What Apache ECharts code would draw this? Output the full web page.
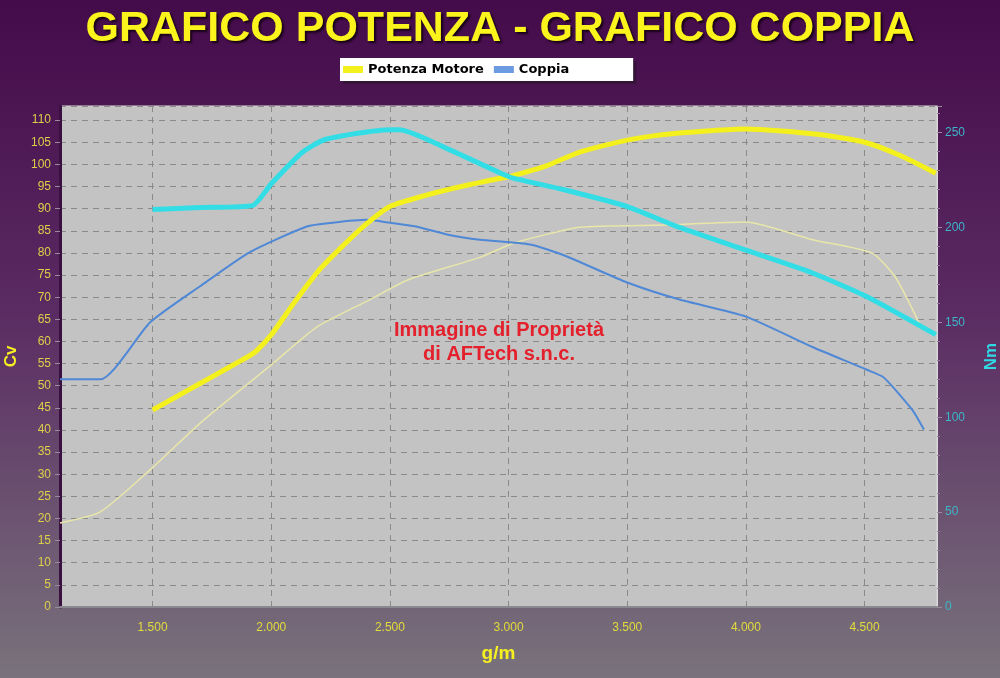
<!DOCTYPE html>
<html>
<head>
<meta charset="utf-8">
<title>Grafico Potenza - Grafico Coppia</title>
<script src="https://cdn.jsdelivr.net/npm/echarts@6/dist/echarts.min.js"></script>
<style>
  html, body { margin: 0; padding: 0; }
  #chart { width: 1000px; height: 678px; }
</style>
</head>
<body>
<div id="chart"></div>
<script>
// tick labels of the rpm axis
const rpmTicks = [1500, 2000, 2500, 3000, 3500, 4000, 4500]

// potenza motore (curva spessa, Cv)
const potenzaRpm = [1500, 1600, 1700, 1800, 1900, 1940, 2000, 2100, 2200, 2300, 2400, 2500, 2650, 2800, 2950, 3000, 3150, 3300, 3500, 3700, 4000, 4300, 4500, 4650, 4800]
const potenzaCv = [44.5, 47.5, 50.5, 53.5, 56.5, 58, 61.5, 69, 76, 81.5, 86.5, 90.5, 93, 95, 96.7, 97.2, 99.5, 102.8, 105.5, 107, 108, 106.8, 105, 102, 98]

// coppia (curva spessa, Nm)
const coppiaRpm = [1500, 1700, 1920, 2000, 2130, 2230, 2500, 2540, 2750, 2960, 3020, 3230, 3500, 3720, 4000, 4280, 4510, 4800]
const coppiaNm = [209.5, 210.5, 211.5, 223, 239.5, 246.5, 251.5, 251.5, 241, 229, 226, 220, 211, 200, 188, 176, 163.5, 143.5]

// potenza di riferimento (curva sottile, Cv)
const potenza2Rpm = [1110, 1280, 1500, 1710, 2000, 2190, 2410, 2580, 2880, 3020, 3300, 3650, 4000, 4280, 4530, 4630, 4740]
const potenza2Cv = [19, 21.5, 31.5, 42, 54.7, 63.2, 69.3, 74, 79, 82.2, 85.8, 86.3, 87, 83, 80, 74.5, 63]

// coppia di riferimento (curva sottile, Nm)
const coppia2Rpm = [1110, 1280, 1490, 1700, 1910, 2150, 2260, 2400, 2500, 2610, 2750, 2880, 3090, 3230, 3500, 3720, 4000, 4280, 4510, 4580, 4700, 4750]
const coppia2Nm = [120, 120, 150, 169, 187, 200.5, 202.5, 204, 202.5, 200.5, 196, 193.5, 191, 185.5, 171, 162, 153, 137, 125, 121, 104, 93.5]

function pairs(xs, ys) {
  return xs.map((x, i) => [x, ys[i]])
}

const myChart = echarts.init(document.getElementById('chart'), null, { renderer: 'canvas' })

const options = {
  animation: false,
  backgroundColor: {
    type: 'linear', x: 0, y: 0, x2: 0, y2: 1,
    colorStops: [
      { offset: 0, color: '#440b4a' },
      { offset: 0.45, color: '#5a2a62' },
      { offset: 1, color: '#79737c' }
    ]
  },
  title: {
    text: 'GRAFICO POTENZA - GRAFICO COPPIA',
    left: 'center',
    top: 3,
    textStyle: {
      color: '#fbf31c',
      fontFamily: 'Liberation Sans',
      fontWeight: 'bold',
      fontSize: 43,
      textShadowColor: 'rgba(20,0,20,0.9)',
      textShadowBlur: 2,
      textShadowOffsetX: 2,
      textShadowOffsetY: 2
    }
  },
  legend: {
    left: 340,
    top: 58,
    icon: 'rect',
    itemWidth: 20,
    itemHeight: 7,
    itemGap: 10,
    padding: [5, 64, 5, 3],
    backgroundColor: '#ffffff',
    shadowColor: 'rgba(40,20,40,0.6)',
    shadowOffsetX: 3,
    shadowOffsetY: 3,
    textStyle: {
      color: '#000',
      fontFamily: 'DejaVu Sans',
      fontWeight: 'bold',
      fontSize: 13
    },
    data: [
      { name: 'Potenza Motore', itemStyle: { color: '#f4f01c' } },
      { name: 'Coppia', itemStyle: { color: '#6d9be2' } }
    ]
  },
  graphic: [
    {
      type: 'text',
      x: 499,
      y: 342,
      z: 10,
      style: {
        text: 'Immagine di Proprietà\ndi AFTech s.n.c.',
        fill: '#e4202c',
        font: 'bold 20px "Liberation Sans"',
        textAlign: 'center',
        textVerticalAlign: 'middle',
        lineHeight: 24
      }
    }
  ],
  grid: {
    left: 60,
    right: 63,
    top: 106,
    bottom: 71,
    outerBoundsMode: 'none',
    show: true,
    backgroundColor: '#c3c3c3',
    borderColor: '#d6d6d6',
    borderWidth: 1
  },
  xAxis: {
    type: 'value',
    min: 1110,
    max: 4805,
    name: 'g/m',
    nameLocation: 'middle',
    nameGap: 37,
    nameTextStyle: {
      color: '#f6f020',
      fontFamily: 'Liberation Sans',
      fontWeight: 'bold',
      fontSize: 19
    },
    axisLine: { lineStyle: { color: '#8c8890', width: 2 } },
    axisTick: { show: false, customValues: rpmTicks },
    axisLabel: {
      customValues: rpmTicks,
      color: '#e2dc3a',
      fontFamily: 'Liberation Sans',
      fontSize: 12,
      margin: 15,
      formatter: v => (v / 1000).toFixed(3)
    },
    splitLine: {
      show: true,
      lineStyle: { color: '#8a8a8a', type: [6, 5], width: 1 }
    }
  },
  yAxis: [
    {
      type: 'value',
      position: 'left',
      min: 0,
      max: 113.2,
      interval: 5,
      name: 'Cv',
      nameLocation: 'middle',
      nameRotate: 90,
      nameGap: 38,
      nameTextStyle: {
        color: '#f6f020',
        fontFamily: 'Liberation Sans',
        fontWeight: 'bold',
        fontSize: 17
      },
      axisLine: { show: true, lineStyle: { color: '#3a1040', width: 3 } },
      axisTick: { show: true, length: 5, lineStyle: { color: '#9a8aa0' } },
      axisLabel: {
        showMaxLabel: false,
        color: '#dcd048',
        fontFamily: 'Liberation Sans',
        fontSize: 12,
        margin: 9
      },
      splitLine: {
        show: true,
        lineStyle: { color: '#8a8a8a', type: [6, 5], width: 1 }
      }
    },
    {
      type: 'value',
      position: 'right',
      min: 0,
      max: 264,
      interval: 50,
      name: 'Nm',
      nameLocation: 'middle',
      nameRotate: 90,
      nameGap: 46,
      nameTextStyle: {
        color: '#30d8e4',
        fontFamily: 'Liberation Sans',
        fontWeight: 'bold',
        fontSize: 17
      },
      axisLine: { show: true, lineStyle: { color: '#d8d8d8', width: 1 } },
      axisTick: { show: true, length: 5, lineStyle: { color: '#9a8aa0' } },
      minorTick: { show: true, splitNumber: 5, length: 3, lineStyle: { color: '#8e7a94' } },
      axisLabel: {
        showMaxLabel: false,
        color: '#3cb6c8',
        fontFamily: 'Liberation Sans',
        fontSize: 12,
        margin: 8
      },
      splitLine: { show: false }
    }
  ],
  series: [
    {
      name: 'Potenza 2',
      type: 'line',
      yAxisIndex: 0,
      showSymbol: false,
      smooth: 0.2,
      lineStyle: { color: '#e8e6a8', width: 1.5 },
      data: pairs(potenza2Rpm, potenza2Cv)
    },
    {
      name: 'Coppia 2',
      type: 'line',
      yAxisIndex: 1,
      showSymbol: false,
      smooth: 0.2,
      lineStyle: { color: '#4f88d6', width: 2 },
      data: pairs(coppia2Rpm, coppia2Nm)
    },
    {
      name: 'Potenza Motore',
      type: 'line',
      yAxisIndex: 0,
      showSymbol: false,
      smooth: 0.2,
      itemStyle: { color: '#f4f01c' },
      lineStyle: { color: '#f4f01c', width: 5 },
      data: pairs(potenzaRpm, potenzaCv)
    },
    {
      name: 'Coppia',
      type: 'line',
      yAxisIndex: 1,
      showSymbol: false,
      smooth: 0.2,
      itemStyle: { color: '#33dde6' },
      lineStyle: { color: '#33dde6', width: 5 },
      data: pairs(coppiaRpm, coppiaNm)
    }
  ]
}

myChart.setOption(options)
</script>
</body>
</html>
